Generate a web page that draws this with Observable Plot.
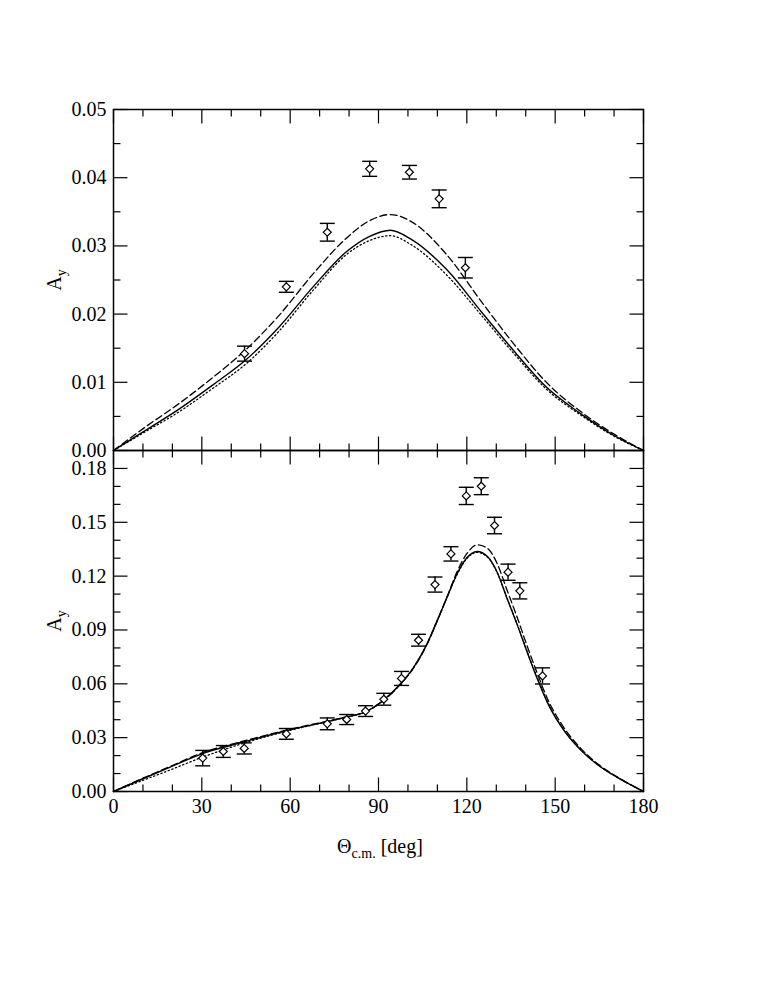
<!DOCTYPE html>
<html><head><meta charset="utf-8">
<script src="https://cdn.jsdelivr.net/npm/d3@7"></script>
<script src="https://cdn.jsdelivr.net/npm/@observablehq/plot@0.6"></script>
<style>
body{margin:0;background:#fff;}
#wrap{position:relative;width:758px;height:981px;font-family:"Liberation Serif","DejaVu Serif",serif;color:#000;}
#wrap svg{position:absolute;left:0;overflow:visible;}
.lab{position:absolute;font-size:20px;line-height:20px;white-space:nowrap;}
.lab sub{font-size:14px;vertical-align:-0.35em;line-height:0;}
</style></head><body><div id="wrap"></div>
<script>
// ---- Top panel: theory curves ----
const topAngles = [0, 11, 22, 34, 45, 56, 68, 79, 87, 94, 101, 113, 125, 136, 147, 159, 170, 180];
const topSolid  = [0, 0.0030, 0.0060, 0.0097, 0.0133, 0.0180, 0.0241, 0.0291, 0.0314, 0.0323, 0.0310, 0.0266, 0.0203, 0.0146, 0.0093, 0.0053, 0.0022, 0];
const topDashed = [0, 0.0035, 0.0068, 0.0108, 0.0148, 0.0197, 0.0260, 0.0311, 0.0337, 0.0346, 0.0336, 0.0288, 0.0218, 0.0156, 0.0100, 0.0056, 0.0024, 0];
const topDotted = [0, 0.0028, 0.0056, 0.0092, 0.0127, 0.0174, 0.0236, 0.0287, 0.0308, 0.0315, 0.0302, 0.0258, 0.0198, 0.0142, 0.0090, 0.0051, 0.0021, 0];
// ---- Top panel: data ----
const topExpAngle = [44.5, 58.7, 72.6, 87.0, 100.5, 110.6, 119.5];
const topExpValue = [0.0142, 0.0240, 0.0320, 0.0413, 0.0408, 0.0369, 0.0268];
const topExpError = [0.0011, 0.0008, 0.0013, 0.0011, 0.0010, 0.0013, 0.0015];

// ---- Bottom panel: theory curves ----
const botAngles = [0, 10, 20, 30, 44, 60, 78, 86, 91, 97.5, 102, 106.5, 110, 113.3, 116.7, 120, 123.5, 127, 130.3, 133.7, 137, 140.5, 144, 147.3, 151.8, 158.6, 165, 172, 180];
const botSolid  = [0, 0.0071, 0.0141, 0.0210, 0.0275, 0.0344, 0.0411, 0.0447, 0.0500, 0.0600, 0.0693, 0.0823, 0.0955, 0.1083, 0.1213, 0.1302, 0.1337, 0.1309, 0.1222, 0.1074, 0.0934, 0.0776, 0.0625, 0.0498, 0.0368, 0.0232, 0.0142, 0.0070, 0];
const botDashed = [0, 0.0074, 0.0145, 0.0215, 0.0280, 0.0347, 0.0412, 0.0447, 0.0498, 0.0598, 0.0690, 0.0820, 0.0952, 0.1085, 0.1225, 0.1325, 0.1374, 0.1355, 0.1270, 0.1120, 0.0975, 0.0810, 0.0655, 0.0520, 0.0385, 0.0242, 0.0147, 0.0072, 0];
const botDotted = [0, 0.0062, 0.0125, 0.0190, 0.0268, 0.0341, 0.0410, 0.0446, 0.0499, 0.0600, 0.0693, 0.0823, 0.0955, 0.1083, 0.1210, 0.1298, 0.1332, 0.1306, 0.1220, 0.1075, 0.0937, 0.0780, 0.0630, 0.0502, 0.0371, 0.0234, 0.0143, 0.0070, 0];
// ---- Bottom panel: data ----
const botExpAngle = [30.3, 37.3, 44.4, 58.7, 72.6, 79.2, 85.6, 91.8, 97.8, 103.6, 109.2, 114.6, 119.8, 124.9, 129.4, 134.0, 138.0, 145.7];
const botExpValue = [0.0186, 0.0223, 0.0240, 0.0321, 0.0377, 0.0401, 0.0448, 0.0514, 0.0630, 0.0843, 0.1153, 0.1324, 0.1647, 0.1701, 0.1482, 0.1222, 0.1118, 0.0644];
const botExpError = [0.0043, 0.0033, 0.0031, 0.0030, 0.0033, 0.0028, 0.0030, 0.0033, 0.0039, 0.0033, 0.0042, 0.0040, 0.0048, 0.0047, 0.0046, 0.0045, 0.0045, 0.0045];

// ---- Ticks ----
const xMajorTicks = [0, 30, 60, 90, 120, 150, 180];
const xMinorTicks = [10, 20, 40, 50, 70, 80, 100, 110, 130, 140, 160, 170];
const topYMajor = [0, 0.01, 0.02, 0.03, 0.04, 0.05];
const topYMinor = [0.005, 0.015, 0.025, 0.035, 0.045];
const botYMajor = [0, 0.03, 0.06, 0.09, 0.12, 0.15, 0.18];
const botYMinor = [0.01, 0.02, 0.04, 0.05, 0.07, 0.08, 0.10, 0.11, 0.13, 0.14, 0.16, 0.17];

const FONT = "'Liberation Serif', 'DejaVu Serif', serif";

// custom symbols
const rad = s => Math.sqrt(s / Math.PI);
const tickUp    = {draw(c, s){ const L = rad(s); c.moveTo(0, 0); c.lineTo(0, -L); }};
const tickDown  = {draw(c, s){ const L = rad(s); c.moveTo(0, 0); c.lineTo(0, L); }};
const tickRight = {draw(c, s){ const L = rad(s); c.moveTo(0, 0); c.lineTo(L, 0); }};
const tickLeft  = {draw(c, s){ const L = rad(s); c.moveTo(0, 0); c.lineTo(-L, 0); }};
const cap       = {draw(c, s){ const r = rad(s); c.moveTo(-r, 0); c.lineTo(r, 0); }};
const diamond   = {draw(c, s){ const r = rad(s); c.moveTo(0, -r); c.lineTo(r, 0); c.lineTo(0, r); c.lineTo(-r, 0); c.closePath(); }};

function panel({angles, solid, dashed, dotted, ea, ev, ee, yDomain, yMajor, yMinor, height, marginTop, marginBottom, xLabels}) {
  const curves = angles.map((a, i) => ({a, solid: solid[i], dashed: dashed[i], dotted: dotted[i]}));
  const exp = ea.map((a, i) => ({a, v: ev[i], e: ee[i]}));
  const tk = {fill: "none", stroke: "black", strokeWidth: 1.2};
  const marks = [
    Plot.line(curves, {x: "a", y: "solid", stroke: "black", strokeWidth: 1.4, curve: "monotone-x"}),
    Plot.line(curves, {x: "a", y: "dashed", stroke: "black", strokeWidth: 1.3, strokeDasharray: "7,3.5", curve: "monotone-x"}),
    Plot.line(curves, {x: "a", y: "dotted", stroke: "black", strokeWidth: 1.3, strokeDasharray: "1.3,2.6", curve: "monotone-x"}),
    Plot.ruleX(exp, {x: "a", y1: d => d.v - d.e, y2: d => d.v + d.e, stroke: "black", strokeWidth: 1.4}),
    Plot.dot(exp, {x: "a", y: d => d.v + d.e, symbol: cap, r: 7.5, ...tk, strokeWidth: 1.4}),
    Plot.dot(exp, {x: "a", y: d => d.v - d.e, symbol: cap, r: 7.5, ...tk, strokeWidth: 1.4}),
    Plot.dot(exp, {x: "a", y: "v", symbol: diamond, r: 4, fill: "white", stroke: "black", strokeWidth: 1.2}),
    Plot.dot(xMajorTicks, {x: d => d, frameAnchor: "bottom", symbol: tickUp, r: 14, ...tk}),
    Plot.dot(xMinorTicks, {x: d => d, frameAnchor: "bottom", symbol: tickUp, r: 7, ...tk}),
    Plot.dot(xMajorTicks, {x: d => d, frameAnchor: "top", symbol: tickDown, r: 14, ...tk}),
    Plot.dot(xMinorTicks, {x: d => d, frameAnchor: "top", symbol: tickDown, r: 7, ...tk}),
    Plot.dot(yMajor, {y: d => d, frameAnchor: "left", symbol: tickRight, r: 14, ...tk}),
    Plot.dot(yMinor, {y: d => d, frameAnchor: "left", symbol: tickRight, r: 7, ...tk}),
    Plot.dot(yMajor, {y: d => d, frameAnchor: "right", symbol: tickLeft, r: 14, ...tk}),
    Plot.dot(yMinor, {y: d => d, frameAnchor: "right", symbol: tickLeft, r: 7, ...tk}),
    Plot.axisY(yMajor, {anchor: "left", tickSize: 0, tickPadding: 7, tickFormat: d3.format(".2f"), label: null, fontFamily: FONT, fontSize: 20}),
    Plot.frame({stroke: "black", strokeWidth: 1.5})
  ];
  if (xLabels) marks.push(Plot.axisX(xMajorTicks, {anchor: "bottom", tickSize: 0, tickPadding: 7, tickFormat: d => String(d), label: null, fontFamily: FONT, fontSize: 20}));
  return Plot.plot({
    width: 758, height, marginLeft: 113, marginRight: 115, marginTop, marginBottom,
    x: {domain: [0, 180], axis: null},
    y: {domain: yDomain, axis: null},
    style: {fontFamily: FONT, fontSize: "20px", color: "black", background: "transparent", overflow: "visible"},
    marks
  });
}

const wrap = document.getElementById("wrap");
const p1 = panel({angles: topAngles, solid: topSolid, dashed: topDashed, dotted: topDotted,
  ea: topExpAngle, ev: topExpValue, ee: topExpError, yDomain: [0, 0.05], yMajor: topYMajor, yMinor: topYMinor,
  height: 450, marginTop: 109, marginBottom: 0, xLabels: false});
p1.style.top = "0px";
wrap.appendChild(p1);
const p2 = panel({angles: botAngles, solid: botSolid, dashed: botDashed, dotted: botDotted,
  ea: botExpAngle, ev: botExpValue, ee: botExpError, yDomain: [0, 0.19], yMajor: botYMajor, yMinor: botYMinor,
  height: 381, marginTop: 0, marginBottom: 40, xLabels: true});
p2.style.top = "450px";
wrap.appendChild(p2);

function addLabel(html, style) {
  const d = document.createElement("div");
  d.className = "lab";
  d.innerHTML = html;
  Object.assign(d.style, style);
  wrap.appendChild(d);
}
addLabel("A<sub>y</sub>", {left: "54px", top: "280px", transform: "translate(-50%,-50%) rotate(-90deg)"});
addLabel("A<sub>y</sub>", {left: "54px", top: "621px", transform: "translate(-50%,-50%) rotate(-90deg)"});
addLabel("&Theta;<sub>c.m.</sub> [deg]", {left: "380px", top: "836px", transform: "translateX(-50%)"});
</script>
</body></html>
